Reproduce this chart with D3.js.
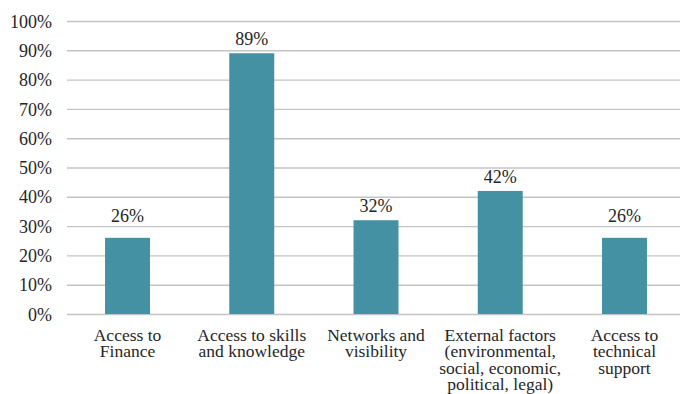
<!DOCTYPE html>
<html>
<head>
<meta charset="utf-8">
<script src="https://cdn.jsdelivr.net/npm/d3@7"></script>
</head>
<body style="margin:0;background:#fff">
<svg id="chart" width="680" height="394"></svg>
<script>
// Share of respondents naming each area of support
const categories = [
  ["Access to", "Finance"],
  ["Access to skills", "and knowledge"],
  ["Networks and", "visibility"],
  ["External factors", "(environmental,", "social, economic,", "political, legal)"],
  ["Access to", "technical", "support"]
];
const values = [26, 89, 32, 42, 26];
const yTicks = [0, 10, 20, 30, 40, 50, 60, 70, 80, 90, 100];

const FONT = "Tinos, 'Times New Roman', 'Liberation Serif', serif";
const INK = "#262626";
const svg = d3.select("#chart");
const W = 680;
const gridLeft = 67, gridRight = W;
const plotTop = 21, plotBottom = 314;

const x = d3.scaleBand()
  .domain(d3.range(values.length))
  .range([65.4, 686.6])
  .padding(0);
const barW = x.bandwidth() * 0.362;

const y = d3.scaleLinear().domain([0, 100]).range([plotBottom, plotTop]);

// horizontal gridlines and percentage ticks
const yAxis = d3.axisLeft(y)
  .tickValues(yTicks)
  .tickFormat(d => d + "%")
  .tickSize(-(gridRight - gridLeft))
  .tickPadding(15);

const g = svg.append("g")
  .attr("transform", `translate(${gridLeft},0)`)
  .call(yAxis)
  .attr("font-family", FONT)
  .attr("font-size", null);
g.select(".domain").remove();
g.selectAll(".tick line")
  .attr("stroke", "#c4c4c4")
  .attr("stroke-width", 1.4);
g.selectAll(".tick text")
  .attr("dy", "0.34em")
  .attr("fill", INK)
  .attr("font-family", FONT)
  .attr("font-size", 18);

// bars
svg.append("g").selectAll("rect")
  .data(values)
  .join("rect")
  .attr("x", (d, i) => x(i) + x.bandwidth() / 2 - barW / 2)
  .attr("width", barW)
  .attr("y", d => y(d))
  .attr("height", d => y(0) - y(d))
  .attr("fill", "#4591a4");

// value labels; nudged above a gridline when they would sit on it
function labelBaseline(v) {
  let b = y(v) - 8;
  for (const t of yTicks) {
    const gy = y(t);
    if (gy >= b - 12 && gy <= b + 2) { b = gy - 4; break; }
  }
  return b;
}
svg.append("g").selectAll("text")
  .data(values)
  .join("text")
  .attr("x", (d, i) => x(i) + x.bandwidth() / 2)
  .attr("y", d => labelBaseline(d))
  .attr("text-anchor", "middle")
  .attr("fill", INK)
  .attr("font-family", FONT)
  .attr("font-size", 18)
  .text(d => d + "%");

// category labels, one text per line
const lines = [];
categories.forEach((c, i) => c.forEach((t, j) => lines.push({ i, j, t })));
svg.append("g").selectAll("text")
  .data(lines)
  .join("text")
  .attr("x", d => x(d.i) + x.bandwidth() / 2)
  .attr("y", d => 340.5 + d.j * 16.6)
  .attr("text-anchor", "middle")
  .attr("fill", INK)
  .attr("font-family", FONT)
  .attr("font-size", 17.5)
  .text(d => d.t);
</script>
</body>
</html>
